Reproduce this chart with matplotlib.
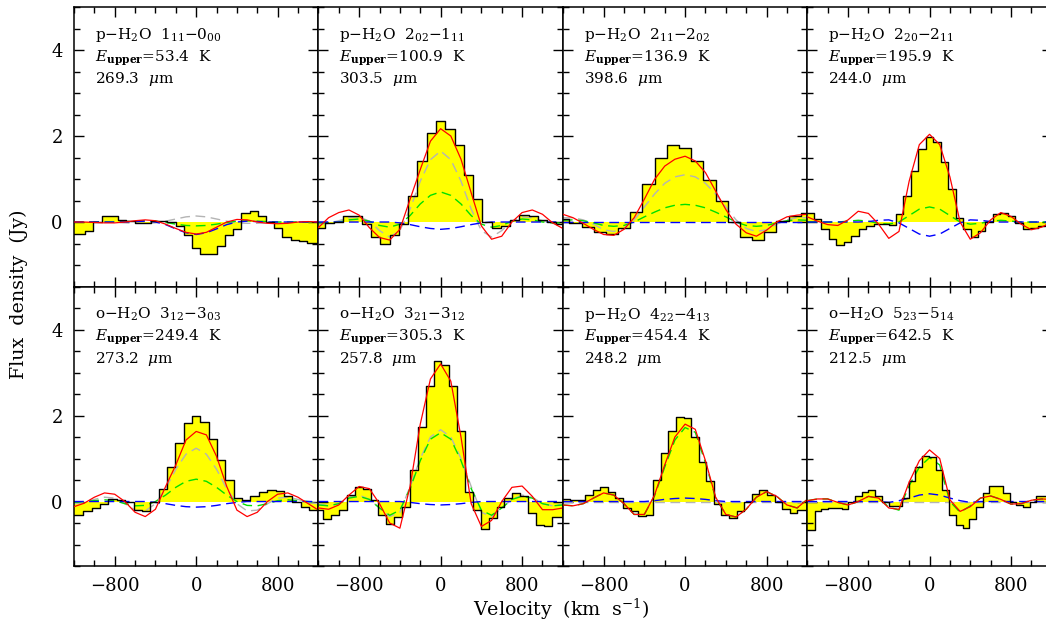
import numpy as np
import matplotlib
matplotlib.use("Agg")
import matplotlib.pyplot as plt
from matplotlib.ticker import MultipleLocator

plt.rcParams['font.family'] = ['DejaVu Serif']
plt.rcParams['mathtext.fontset'] = 'dejavuserif'

# line labels
species = ['p', 'p', 'p', 'p', 'o', 'o', 'p', 'o']
upper = ['1_{11}', '2_{02}', '2_{11}', '2_{20}', '3_{12}', '3_{21}', '4_{22}', '5_{23}']
lower = ['0_{00}', '1_{11}', '2_{02}', '2_{11}', '3_{03}', '3_{12}', '4_{13}', '5_{14}']
e_upper = ['53.4', '100.9', '136.9', '195.9', '249.4', '305.3', '454.4', '642.5']
wavelength = ['269.3', '303.5', '398.6', '244.0', '273.2', '257.8', '248.2', '212.5']

# spectral channels: first channel centre and channel width (km/s)
chan_start = [-1130, -1183, -1196, -1171, -1148, -1190, -1168, -1161]
chan_width = [80.7, 91.0, 119.6, 73.2, 82.0, 77.3, 74.4, 66.0]

flux1 = [-0.29, -0.2, 0.0, 0.15, 0.13, 0.05, 0.03, -0.03, -0.03, 0.03, 0.03, 0.0, -0.1, -0.3, -0.6,
         -0.75, -0.75, -0.55, -0.3, -0.17, 0.2, 0.25, 0.15, 0.0, -0.15, -0.35, -0.42, -0.45, -0.48]
flux2 = [-0.15, -0.02, 0.0, 0.15, 0.15, -0.05, -0.35, -0.5, -0.3, -0.05, 0.6, 1.42, 2.07, 2.35,
         2.17, 1.78, 1.1, 0.53, 0.0, -0.15, -0.1, 0.05, 0.17, 0.15, 0.05, 0.0, -0.05]
flux3 = [0.06, -0.03, -0.11, -0.23, -0.27, -0.15, 0.23, 0.88, 1.5, 1.78, 1.73, 1.42, 0.97, 0.49,
         0.0, -0.34, -0.42, -0.23, 0.02, 0.14, 0.22]
flux4 = [0.22, 0.06, -0.17, -0.4, -0.54, -0.47, -0.33, -0.17, -0.09, -0.05, -0.05, -0.08, 0.18,
         0.6, 1.19, 1.69, 1.98, 1.86, 1.4, 0.76, 0.1, -0.17, -0.36, -0.21, 0.0, 0.18, 0.22, 0.14,
         -0.02, -0.17, -0.15, -0.09, -0.08]
flux5 = [-0.31, -0.23, -0.16, -0.05, 0.05, 0.04, -0.02, -0.19, -0.23, -0.02, 0.29, 0.81, 1.37,
         1.82, 1.99, 1.86, 1.45, 0.97, 0.49, 0.08, 0.04, 0.13, 0.23, 0.27, 0.25, 0.12, -0.02,
         -0.13, -0.19]
flux6 = [-0.2, -0.4, -0.31, -0.19, 0.16, 0.33, 0.29, 0.04, -0.31, -0.52, -0.35, -0.12, 0.74,
         1.74, 2.69, 3.26, 3.18, 2.69, 1.63, 0.23, -0.19, -0.64, -0.39, -0.13, 0.08, 0.19, 0.13,
         -0.27, -0.54, -0.58, -0.35]
flux7 = [0.05, 0.04, 0.04, 0.16, 0.26, 0.33, 0.23, 0.08, -0.16, -0.23, -0.33, -0.31, 0.5, 1.14,
         1.64, 1.96, 1.94, 1.51, 0.93, 0.47, -0.05, -0.31, -0.39, -0.23, 0.0, 0.18, 0.26, 0.16,
         -0.02, -0.18, -0.27, -0.2]
flux8 = [-0.67, -0.23, -0.18, -0.16, -0.16, -0.18, 0.0, 0.12, 0.23, 0.26, 0.13, 0.0, -0.1, -0.1,
         0.08, 0.47, 0.81, 1.06, 1.03, 0.74, 0.26, -0.31, -0.54, -0.62, -0.41, -0.12, 0.19, 0.36,
         0.36, 0.19, -0.02, -0.08, -0.12, 0.0, 0.13]

# model curves sampled every 100 km/s from -1200 to 1200
vgrid = np.arange(-1200, 1201, 100)

red1 = [0.0, 0.0, -0.01, -0.02, -0.02, 0.0, 0.03, 0.05, 0.03, -0.05, -0.15, -0.24, -0.28, -0.24,
        -0.12, 0.0, 0.06, 0.05, 0.0, -0.03, -0.04, -0.03, 0.0, 0.01, 0.0]
gray1 = [0.0, 0.0, 0.0, 0.0, -0.01, -0.02, -0.03, -0.03, -0.02, 0.02, 0.07, 0.12, 0.14, 0.12, 0.07,
         0.02, -0.02, -0.03, -0.03, -0.02, -0.01, 0.0, 0.0, 0.0, 0.0]
green1 = [0.0, 0.0, 0.0, 0.0, 0.0, 0.01, 0.02, 0.03, 0.02, -0.01, -0.05, -0.08, -0.09, -0.08, -0.05,
          -0.01, 0.02, 0.03, 0.02, 0.01, 0.0, 0.0, 0.0, 0.0, 0.0]
blue1 = [0.0, 0.0, 0.0, 0.0, 0.0, 0.0, 0.01, 0.02, 0.0, -0.06, -0.16, -0.25, -0.29, -0.25, -0.16,
         -0.06, 0.0, 0.02, 0.01, 0.0, 0.0, 0.0, 0.0, 0.0, 0.0]

red2 = [-0.13, 0.1, 0.22, 0.28, 0.16, -0.13, -0.36, -0.42, -0.17, 0.53, 1.22, 1.88, 2.17, 2.0,
        1.46, 0.68, -0.09, -0.4, -0.33, 0.0, 0.22, 0.28, 0.18, -0.02, -0.15]
gray2 = [-0.05, -0.03, 0.03, 0.1, 0.12, 0.02, -0.2, -0.35, -0.2, 0.3, 0.95, 1.45, 1.65, 1.45, 0.95,
         0.3, -0.2, -0.35, -0.2, 0.02, 0.12, 0.1, 0.03, -0.03, -0.05]
green2 = [-0.02, -0.02, 0.0, 0.05, 0.07, 0.02, -0.08, -0.12, -0.05, 0.15, 0.42, 0.62, 0.7, 0.62,
          0.42, 0.15, -0.05, -0.12, -0.08, 0.02, 0.07, 0.05, 0.0, -0.02, -0.02]
blue2 = [0.0, 0.0, 0.0, 0.0, 0.0, 0.0, 0.0, 0.0, -0.02, -0.06, -0.11, -0.15, -0.17, -0.15, -0.11,
         -0.06, -0.02, 0.0, 0.0, 0.0, 0.0, 0.0, 0.0, 0.0, 0.0]

red3 = [0.18, 0.1, -0.03, -0.17, -0.29, -0.31, -0.17, 0.1, 0.53, 0.99, 1.3, 1.46, 1.53, 1.42, 1.15,
        0.72, 0.29, -0.05, -0.25, -0.33, -0.19, 0.0, 0.12, 0.16, 0.18]
gray3 = [0.1, 0.1, 0.05, -0.05, -0.18, -0.22, -0.15, 0.05, 0.35, 0.65, 0.9, 1.05, 1.1, 1.05, 0.9,
         0.65, 0.35, 0.05, -0.15, -0.22, -0.18, -0.05, 0.05, 0.1, 0.1]
green3 = [0.04, 0.05, 0.03, -0.02, -0.08, -0.1, -0.08, 0.0, 0.12, 0.23, 0.33, 0.39, 0.41, 0.39,
          0.33, 0.23, 0.12, 0.0, -0.08, -0.1, -0.08, -0.02, 0.03, 0.05, 0.04]
blue3 = [0.0, 0.0, 0.0, 0.0, 0.0, 0.0, 0.0, 0.0, 0.0, 0.0, 0.0, 0.0, 0.0, 0.0, 0.0, 0.0, 0.0, 0.0,
         0.0, 0.0, 0.0, 0.0, 0.0, 0.0, 0.0]

red4 = [0.12, 0.02, -0.06, -0.08, 0.05, 0.25, 0.2, -0.05, -0.38, -0.22, 0.95, 1.8, 2.04, 1.8, 1.05,
        0.0, -0.4, -0.25, 0.05, 0.22, 0.13, -0.05, -0.18, -0.12, 0.0]
gray4 = None
green4 = [0.0, 0.0, 0.0, 0.0, 0.02, 0.04, 0.02, -0.03, -0.05, 0.0, 0.15, 0.3, 0.35, 0.3, 0.15, 0.0,
          -0.05, -0.03, 0.02, 0.04, 0.02, 0.0, 0.0, 0.0, 0.0]
blue4 = [0.0, 0.0, 0.0, 0.0, 0.0, 0.0, 0.01, 0.04, 0.05, -0.02, -0.15, -0.28, -0.33, -0.28, -0.15,
         -0.02, 0.05, 0.04, 0.01, 0.0, 0.0, 0.0, 0.0, 0.0, 0.0]

red5 = [-0.12, -0.04, 0.1, 0.2, 0.17, 0.0, -0.25, -0.35, -0.18, 0.35, 0.85, 1.43, 1.63, 1.55, 1.05,
        0.35, -0.2, -0.35, -0.25, 0.0, 0.17, 0.2, 0.1, -0.05, -0.2]
gray5 = [-0.05, -0.02, 0.05, 0.1, 0.08, -0.05, -0.2, -0.22, -0.05, 0.3, 0.75, 1.1, 1.24, 1.1, 0.75,
         0.3, -0.05, -0.22, -0.2, -0.05, 0.08, 0.1, 0.05, -0.02, -0.05]
green5 = [-0.02, 0.0, 0.02, 0.04, 0.02, -0.05, -0.1, -0.09, 0.0, 0.15, 0.33, 0.47, 0.52, 0.47, 0.33,
          0.15, 0.0, -0.09, -0.1, -0.05, 0.02, 0.04, 0.02, 0.0, -0.02]
blue5 = [0.0, 0.0, 0.0, 0.0, 0.0, 0.0, 0.0, 0.0, -0.02, -0.05, -0.09, -0.12, -0.13, -0.12, -0.09,
         -0.05, -0.02, 0.0, 0.0, 0.0, 0.0, 0.0, 0.0, 0.0, 0.0]

red6 = [-0.15, -0.18, -0.08, 0.15, 0.35, 0.3, -0.05, -0.5, -0.62, 0.35, 1.8, 2.85, 3.2, 2.8, 1.5,
        -0.05, -0.58, -0.44, 0.0, 0.33, 0.36, 0.12, -0.19, -0.19, -0.15]
gray6 = [-0.05, -0.1, -0.05, 0.1, 0.15, 0.05, -0.15, -0.35, -0.25, 0.35, 1.0, 1.5, 1.67, 1.5, 1.0,
         0.35, -0.25, -0.35, -0.15, 0.05, 0.15, 0.1, -0.05, -0.1, -0.05]
green6 = [-0.08, -0.1, -0.05, 0.08, 0.12, 0.05, -0.15, -0.32, -0.2, 0.3, 0.95, 1.45, 1.6, 1.45,
          0.95, 0.3, -0.2, -0.32, -0.15, 0.05, 0.12, 0.08, -0.05, -0.1, -0.08]
blue6 = [0.0, 0.0, 0.0, 0.0, 0.0, 0.0, 0.0, 0.0, 0.0, -0.02, -0.05, -0.07, -0.08, -0.07, -0.05,
         -0.02, 0.0, 0.0, 0.0, 0.0, 0.0, 0.0, 0.0, 0.0, 0.0]

red7 = [-0.08, -0.1, -0.05, 0.08, 0.2, 0.15, -0.05, -0.3, -0.3, 0.15, 0.85, 1.5, 1.8, 1.68, 0.95,
        0.1, -0.3, -0.36, -0.18, 0.1, 0.23, 0.12, -0.08, -0.15, 0.05]
gray7 = [0.0, 0.0, 0.0, 0.0, 0.0, 0.0, 0.0, 0.0, 0.0, 0.0, 0.0, 0.0, 0.0, 0.0, 0.0, 0.0, 0.0, 0.0,
         0.0, 0.0, 0.0, 0.0, 0.0, 0.0, 0.0]
green7 = [-0.08, -0.1, -0.05, 0.08, 0.2, 0.15, -0.05, -0.3, -0.3, 0.13, 0.8, 1.43, 1.72, 1.61, 0.9,
          0.08, -0.3, -0.36, -0.18, 0.1, 0.23, 0.12, -0.08, -0.15, 0.05]
blue7 = [0.0, 0.0, 0.0, 0.0, 0.0, 0.0, 0.0, 0.0, 0.0, 0.02, 0.05, 0.07, 0.08, 0.07, 0.05, 0.02,
         0.0, 0.0, 0.0, 0.0, 0.0, 0.0, 0.0, 0.0, 0.0]

red8 = [0.02, 0.06, 0.06, -0.02, -0.08, 0.0, 0.12, 0.08, -0.15, -0.18, 0.45, 0.95, 1.2, 1.0, 0.04,
        -0.23, -0.12, 0.08, 0.13, 0.05, -0.06, -0.05, 0.03, 0.06, 0.05]
gray8 = [0.0, 0.0, 0.0, 0.0, 0.0, 0.0, 0.0, 0.0, 0.0, 0.0, 0.0, 0.0, 0.0, 0.0, 0.0, 0.0, 0.0, 0.0,
         0.0, 0.0, 0.0, 0.0, 0.0, 0.0, 0.0]
green8 = [0.02, 0.06, 0.06, -0.02, -0.08, 0.0, 0.12, 0.08, -0.13, -0.2, 0.37, 0.8, 1.02, 0.85, 0.0,
          -0.25, -0.1, 0.08, 0.13, 0.05, -0.06, -0.05, 0.03, 0.06, 0.05]
blue8 = [0.0, 0.0, 0.0, 0.0, 0.0, 0.0, 0.0, 0.0, -0.02, 0.02, 0.08, 0.15, 0.18, 0.15, 0.08, 0.02,
         -0.02, 0.0, 0.0, 0.0, 0.0, 0.0, 0.0, 0.0, 0.0]

fluxes = [flux1, flux2, flux3, flux4, flux5, flux6, flux7, flux8]
reds = [red1, red2, red3, red4, red5, red6, red7, red8]
grays = [gray1, gray2, gray3, gray4, gray5, gray6, gray7, gray8]
greens = [green1, green2, green3, green4, green5, green6, green7, green8]
blues = [blue1, blue2, blue3, blue4, blue5, blue6, blue7, blue8]

fig = plt.figure(figsize=(10.46, 6.26), dpi=100)
axes = fig.subplots(2, 4, sharex=True, sharey=True)
fig.subplots_adjust(left=0.0707, right=1.0055, bottom=0.0958, top=0.9888, wspace=0, hspace=0)

dash = (0, (7, 4))
for i, ax in enumerate(axes.flat):
    f = np.array(fluxes[i])
    v = chan_start[i] + chan_width[i] * np.arange(len(f))
    # pad so the outer half channels are drawn too
    ve = np.concatenate([[v[0] - chan_width[i]], v, [v[-1] + chan_width[i]]])
    fe = np.concatenate([[f[0]], f, [f[-1]]])
    ax.fill_between(ve, 0, fe, step='mid', color='#ffff00', lw=0, zorder=1)
    if grays[i] is not None:
        ax.plot(vgrid, grays[i], color='#b4b4b4', lw=1, ls=dash, zorder=2)
    ax.plot(vgrid, greens[i], color='#00e000', lw=1, ls=dash, zorder=2)
    ax.plot(vgrid, blues[i], color='#0000ff', lw=1, ls=dash, zorder=2)
    ax.step(ve, fe, where='mid', color='black', lw=1.0, zorder=3)
    ax.plot(vgrid, reds[i], color='#ff0000', lw=0.9, zorder=4)

    ax.text(0.086, 0.885, r'%s$-$H$_2$O  $%s$$-$$%s$' % (species[i], upper[i], lower[i]),
            transform=ax.transAxes, fontsize=11)
    ax.text(0.086, 0.806, r'$E_{\mathbf{upper}}$=%s  K' % e_upper[i],
            transform=ax.transAxes, fontsize=11)
    ax.text(0.086, 0.727, r'%s  $\mu$m' % wavelength[i],
            transform=ax.transAxes, fontsize=11)

    ax.set_xlim(-1200, 1200)
    ax.set_ylim(-1.5, 5)
    ax.xaxis.set_major_locator(MultipleLocator(800))
    ax.xaxis.set_minor_locator(MultipleLocator(200))
    ax.yaxis.set_major_locator(MultipleLocator(2))
    ax.yaxis.set_minor_locator(MultipleLocator(0.5))
    ax.tick_params(which='both', direction='in', top=True, right=True, labelsize=13, width=1)
    ax.tick_params(which='major', length=7, pad=8)
    ax.tick_params(which='minor', length=4)
    for s in ax.spines.values():
        s.set_linewidth(1.1)

fig.text(0.537, 0.026, r'Velocity  (km  s$^{-1}$)', ha='center', va='center', fontsize=13.7)
fig.text(0.018, 0.53, 'Flux  density  (Jy)', ha='center', va='center', rotation=90, fontsize=13.7)

fig.savefig('out.png', dpi=100)
